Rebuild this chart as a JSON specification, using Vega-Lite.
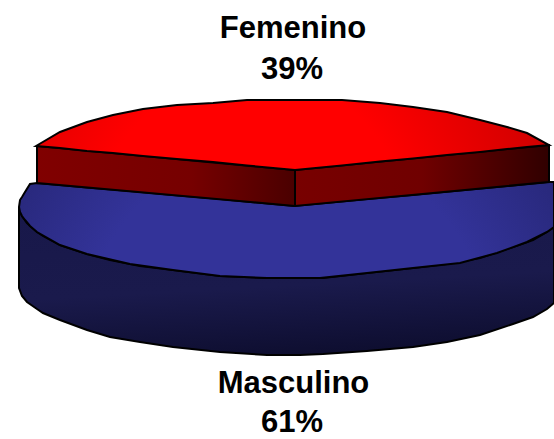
{"$schema":"https://vega.github.io/schema/vega-lite/v6.json","width":554,"height":439,"autosize":"none","padding":0,"background":"white","view":{"stroke":null},
"datasets":{
"blueSide":[{"x":19,"y":207,"y2":288},{"x":22,"y":216,"y2":296},{"x":27,"y":223,"y2":302},{"x":37,"y":232,"y2":309},{"x":43,"y":236,"y2":313},{"x":60,"y":245,"y2":320},{"x":87,"y":254,"y2":330},{"x":110,"y":260,"y2":337},{"x":140,"y":266,"y2":342},{"x":173,"y":270,"y2":347},{"x":220,"y":276,"y2":352},{"x":267,"y":278,"y2":355},{"x":300,"y":278,"y2":355},{"x":323,"y":278,"y2":354},{"x":367,"y":273,"y2":351},{"x":413,"y":268,"y2":347},{"x":447,"y":264,"y2":342},{"x":480,"y":258,"y2":335},{"x":513,"y":247,"y2":324},{"x":533,"y":240,"y2":317},{"x":547,"y":232,"y2":309},{"x":554,"y":227,"y2":303}],
"blueTop":[{"x":19,"y":207,"y2":207},{"x":20,"y":200,"y2":212},{"x":22,"y":197,"y2":216},{"x":25,"y":192,"y2":220},{"x":30,"y":184,"y2":226},{"x":37,"y":183,"y2":232},{"x":60,"y":185,"y2":245},{"x":87,"y":187.5,"y2":254},{"x":130,"y":191,"y2":264},{"x":173,"y":195,"y2":270},{"x":220,"y":199,"y2":276},{"x":267,"y":203.5,"y2":278},{"x":294,"y":206,"y2":278},{"x":320,"y":203.5,"y2":278},{"x":367,"y":199,"y2":273},{"x":413,"y":195,"y2":268},{"x":460,"y":190.5,"y2":263},{"x":497,"y":187,"y2":253},{"x":527,"y":184,"y2":242},{"x":547,"y":182,"y2":232},{"x":554,"y":182,"y2":227}],
"redLeft":[{"x":37,"y":146,"y2":183},{"x":295,"y":170,"y2":206}],
"redRight":[{"x":295,"y":170,"y2":206},{"x":549,"y":145,"y2":182}],
"redTop":[{"x":36,"y":146,"y2":146},{"x":60,"y":132,"y2":148},{"x":87,"y":122,"y2":151},{"x":113,"y":115,"y2":153},{"x":143,"y":109,"y2":156},{"x":177,"y":105,"y2":159},{"x":213,"y":103,"y2":162},{"x":247,"y":100,"y2":165.5},{"x":295,"y":100,"y2":170},{"x":342,"y":100,"y2":165.4},{"x":380,"y":103,"y2":161.6},{"x":413,"y":107,"y2":158.4},{"x":447,"y":112,"y2":155},{"x":480,"y":120,"y2":152},{"x":507,"y":127,"y2":149},{"x":527,"y":133,"y2":147},{"x":549,"y":145,"y2":145}],
"labels":[{"label":"Femenino","x":293,"y":29},{"label":"39%","x":292,"y":70},{"label":"Masculino","x":293.5,"y":384},{"label":"61%","x":292,"y":423}]
},
"encoding":{"x":{"field":"x","type":"quantitative","scale":{"domain":[0,554],"nice":false,"zero":false},"axis":null},"y":{"field":"y","type":"quantitative","scale":{"domain":[439,0],"nice":false,"zero":false},"axis":null}},
"layer":[
{"data":{"name":"blueSide"},"mark":{"type":"area","orient":"vertical","stroke":"black","strokeWidth":2,"color":{"gradient":"linear","x1":0.3,"y1":0,"x2":0.5,"y2":1,"stops":[{"offset":0,"color":"#18184a"},{"offset":0.55,"color":"#1a1a4c"},{"offset":1,"color":"#0e0e30"}]}},"encoding":{"y2":{"field":"y2"}}},
{"data":{"name":"blueTop"},"mark":{"type":"area","orient":"vertical","stroke":"black","strokeWidth":2,"color":{"gradient":"radial","x1":0.5,"y1":0.72,"r1":0,"x2":0.5,"y2":0.72,"r2":0.85,"stops":[{"offset":0,"color":"#333399"},{"offset":0.45,"color":"#333399"},{"offset":1,"color":"#1a1a55"}]}},"encoding":{"y2":{"field":"y2"}}},
{"data":{"name":"redLeft"},"mark":{"type":"area","orient":"vertical","stroke":"black","strokeWidth":2,"color":{"gradient":"linear","x1":0,"y1":0,"x2":1,"y2":0,"stops":[{"offset":0,"color":"#800000"},{"offset":0.6,"color":"#760000"},{"offset":1,"color":"#4a0000"}]}},"encoding":{"y2":{"field":"y2"}}},
{"data":{"name":"redRight"},"mark":{"type":"area","orient":"vertical","stroke":"black","strokeWidth":2,"color":{"gradient":"linear","x1":0,"y1":0,"x2":1,"y2":0,"stops":[{"offset":0,"color":"#780000"},{"offset":0.5,"color":"#700000"},{"offset":1,"color":"#300000"}]}},"encoding":{"y2":{"field":"y2"}}},
{"data":{"name":"redTop"},"mark":{"type":"area","orient":"vertical","stroke":"black","strokeWidth":2,"color":{"gradient":"radial","x1":0.42,"y1":0.68,"r1":0,"x2":0.42,"y2":0.68,"r2":0.75,"stops":[{"offset":0,"color":"#ff0000"},{"offset":0.4,"color":"#ff0000"},{"offset":1,"color":"#b80000"}]}},"encoding":{"y2":{"field":"y2"}}},
{"data":{"name":"labels"},"mark":{"type":"text","font":"Liberation Sans","fontWeight":"bold","fontSize":31,"color":"black","align":"center","baseline":"middle"},"encoding":{"text":{"field":"label"}}}
]}
